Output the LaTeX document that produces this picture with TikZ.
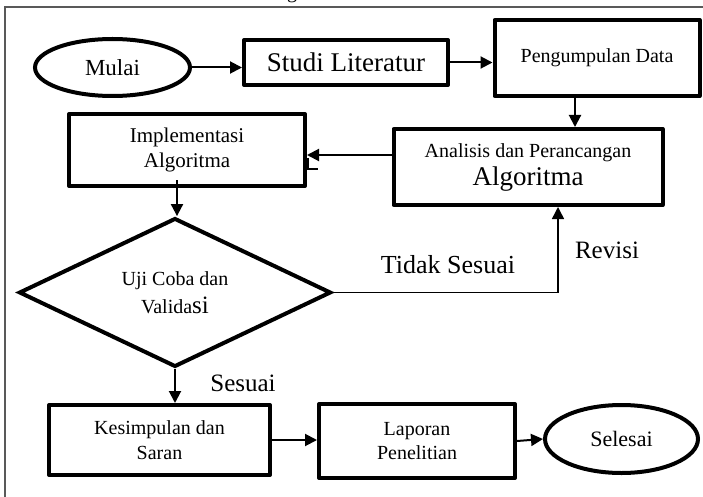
\documentclass[tikz,border=0pt]{standalone}
\usepackage{fontspec}
\setmainfont{Liberation Serif}
\usetikzlibrary{shapes.geometric,arrows.meta,calc}
\newcommand{\fsz}[2]{\fontsize{#1pt}{#2pt}\selectfont}
\begin{document}
\begin{tikzpicture}[x=1pt,y=-1pt,
  box/.style={draw,line width=4pt,line join=round,inner sep=0pt,align=center},
  term/.style={draw,ellipse,line width=4pt,inner sep=0pt},
  flow/.style={line width=2pt,-{Triangle[length=12pt,width=12pt]}},
  lbl/.style={inner sep=0pt},
]
\useasboundingbox (0,0) rectangle (703,497);
% page frame
\draw[black!65,line width=1.5pt] (5,497) -- (5,7) -- (703,7);
% caption line above the frame (only its descender lies on the page)
\node[font=\fsz{20}{24},anchor=base,inner sep=0pt] (cap) at (292,-1) {g};

% process steps
\node[term,minimum width=155pt,minimum height=57pt,font=\fsz{23}{27}] (mulai) at (112.5,67.5) {Mulai};
\node[box,minimum width=204pt,minimum height=45pt,font=\fsz{27}{30}] (studi) at (346,62.5) {Studi Literatur};
\node[box,minimum width=205pt,minimum height=76pt,font=\fsz{20}{25}] (peng) at (597,58) {Pengumpulan Data};
\node[box,minimum width=269pt,minimum height=76pt,font=\fsz{20}{28}] (anal) at (528,167)
  {Analisis dan Perancangan\\{\fsz{27}{28}Algoritma}};
\node[box,minimum width=236pt,minimum height=72pt,font=\fsz{21}{25}] (impl) at (187,150) {Implementasi\\Algoritma};
\node[draw,diamond,line width=4pt,minimum width=312pt,minimum height=148pt,inner sep=0pt,
  align=center,font=\fsz{20}{28}] (uji) at (175,292.5) {Uji Coba dan\\Valida{\fsz{25}{28}si}};
\node[box,minimum width=221pt,minimum height=70pt,font=\fsz{20}{25}] (kes) at (159.5,440) {Kesimpulan dan\\Saran};
\node[box,minimum width=196pt,minimum height=74pt,font=\fsz{20}{24}] (lap) at (417,441) {Laporan\\Penelitian};
\node[term,minimum width=153pt,minimum height=68pt,font=\fsz{22}{26}] (sel) at (621.5,439) {Selesai};

% branch labels
\node[lbl,font=\fsz{26}{30}] (tidak) at (448,265) {Tidak Sesuai};
\node[lbl,font=\fsz{25}{30}] (revisi) at (607,250) {Revisi};
\node[lbl,font=\fsz{25}{30}] (sesuai) at (243,383) {Sesuai};

% connectors
\draw[flow] (mulai.east) -- (mulai.east -| studi.west);
\draw[flow] (studi.east) -- (studi.east -| peng.west);
\coordinate (pd) at ($(peng.south)+(-22,0)$);
\draw[flow] (pd) -- (pd |- anal.north);
\coordinate (aw) at ($(anal.west)+(0,-12)$);
\draw[flow] (aw) -- (aw -| impl.east);
\coordinate (id) at ($(impl.south)+(-10,-8)$);
\draw[flow] (id) -- (id |- uji.north);
\coordinate (ar) at ($(anal.south)+(30,0)$);
\draw[flow,line width=1.5pt] (uji.east) -| (ar);
\draw[flow] (uji.south) -- (uji.south |- kes.north);
\draw[flow] (kes.east) -- (kes.east -| lap.west);
\draw[flow] (lap.east) -- (sel.west);
% small stroke beside the incoming arrow
\draw[line width=1.5pt] (308,158) -- (308,169) -- (318,169);
\end{tikzpicture}
\end{document}
